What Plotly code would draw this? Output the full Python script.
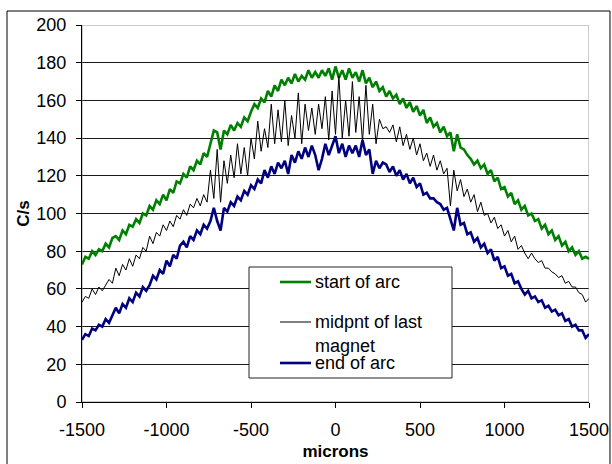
import plotly.graph_objects as go

# x positions (microns), 20-micron spacing
microns = list(range(-1500, 1501, 20))

start_of_arc = [
    73, 77, 76, 80, 78, 81, 80, 84, 82, 87,
    88, 86, 91, 89, 94, 93, 97, 95, 100, 99,
    104, 102, 107, 105, 110, 107, 113, 111, 117, 116,
    121, 119, 125, 123, 128, 126, 132, 130, 137, 144,
    143, 134, 144, 142, 147, 144, 148, 146, 151, 149,
    154, 158, 156, 161, 159, 165, 162, 168, 165, 171,
    168, 172, 169, 174, 170, 173, 171, 176, 172, 175,
    172, 176, 173, 177, 171, 178, 172, 176, 171, 177,
    172, 175, 170, 176, 169, 172, 167, 170, 165, 167,
    162, 165, 161, 163, 158, 161, 156, 159, 154, 157,
    152, 155, 148, 151, 146, 148, 143, 146, 141, 143,
    133, 142, 135, 134, 131, 129, 126, 128, 124, 126,
    121, 123, 117, 119, 113, 114, 109, 111, 105, 107,
    102, 104, 99, 100, 96, 97, 92, 94, 89, 91,
    86, 88, 83, 85, 80, 82, 78, 80, 76, 77,
    76,
]

midpnt_last_magnet = [
    53, 56, 55, 60, 57, 61, 59, 62, 65, 63,
    71, 67, 73, 70, 76, 72, 78, 76, 82, 80,
    88, 84, 90, 88, 94, 91, 96, 93, 99, 97,
    102, 99, 105, 103, 108, 104, 110, 106, 123, 108,
    134, 106, 128, 116, 131, 119, 137, 121, 135, 120,
    140, 129, 149, 133, 145, 135, 158, 137, 155, 138,
    160, 136, 152, 140, 164, 137, 158, 144, 156, 142,
    158, 145, 162, 139, 165, 142, 173, 140, 160, 141,
    170, 143, 162, 138, 168, 142, 158, 137, 150, 145,
    146, 143, 147, 138, 146, 136, 142, 134, 140, 131,
    137, 128, 132, 125, 131, 123, 128, 121, 124, 104,
    123, 112, 118, 109, 113, 106, 110, 101, 106, 99,
    100, 95, 98, 92, 94, 88, 91, 85, 88, 81,
    83, 79, 76, 79, 76, 74, 75, 71, 71, 69,
    68, 66, 67, 63, 64, 61, 61, 58, 57, 53,
    55,
]

end_of_arc = [
    33, 36, 35, 39, 38, 41, 40, 44, 42, 46,
    50, 47, 52, 50, 55, 53, 58, 56, 61, 59,
    62, 67, 65, 70, 68, 75, 72, 78, 76, 83,
    85, 82, 88, 86, 91, 89, 94, 92, 96, 103,
    96, 91, 103, 101, 106, 104, 109, 107, 112, 110,
    115, 113, 118, 116, 123, 119, 125, 121, 127, 124,
    128, 121, 131, 127, 133, 129, 135, 130, 136, 131,
    123, 129, 137, 131, 136, 141, 132, 137, 130, 136,
    132, 136, 130, 139, 131, 134, 121, 128, 124, 127,
    126, 122, 125, 120, 123, 118, 121, 116, 119, 114,
    116, 110, 111, 108, 108, 106, 105, 102, 103, 97,
    91, 103, 94, 95, 89, 90, 85, 87, 82, 84,
    79, 81, 75, 77, 71, 72, 67, 68, 63, 64,
    60, 57, 59, 55, 56, 53, 54, 50, 51, 48,
    49, 46, 47, 43, 44, 40, 41, 38, 38, 34,
    36,
]

x_ticks = [-1500, -1000, -500, 0, 500, 1000, 1500]
x_tick_text = ["-1500", "-1000", "-500", "0", "500", "1000", "1500"]
y_ticks = list(range(0, 201, 20))

FONT = "Liberation Sans, Arial, sans-serif"

fig = go.Figure()
fig.add_trace(go.Scatter(x=microns, y=start_of_arc, mode="lines", name="start of arc",
                         line=dict(color="#008000", width=2.6), showlegend=False))
fig.add_trace(go.Scatter(x=microns, y=midpnt_last_magnet, mode="lines", name="midpnt of last magnet",
                         line=dict(color="#000000", width=1), showlegend=False))
fig.add_trace(go.Scatter(x=microns, y=end_of_arc, mode="lines", name="end of arc",
                         line=dict(color="#000080", width=2.6), showlegend=False))

fig.update_layout(
    width=612, height=464,
    margin=dict(l=82, r=23, t=25, b=62, autoexpand=False),
    paper_bgcolor="white", plot_bgcolor="white",
    font=dict(family=FONT, size=18, color="black"),
    xaxis=dict(range=[-1500, 1500], tickvals=x_ticks, ticktext=x_tick_text,
               ticks="outside", ticklen=5, ticklabelstandoff=6,
               tickcolor="black", showline=True, linecolor="black", linewidth=1,
               showgrid=False, zeroline=False,
               title=dict(text="<b>microns</b>", font=dict(size=17), standoff=6)),
    yaxis=dict(range=[0, 200], tickvals=y_ticks, ticks="outside", ticklen=5,
               ticklabelstandoff=6,
               tickcolor="black", showline=True, linecolor="black", linewidth=1,
               showgrid=True, gridcolor="#1a1a1a", gridwidth=1, zeroline=False,
               title=dict(text="<b>C/s</b>", font=dict(size=17), standoff=2)),
)

# plot-area border (grey top/right)
fig.add_shape(type="rect", xref="x", yref="y", x0=-1500, x1=1500, y0=0, y1=200,
              line=dict(color="#9a9a9a", width=1), layer="between")
# outer chart border
fig.add_shape(type="rect", xref="paper", yref="paper", x0=-0.1479, x1=1.0414,
              y0=-0.2, y1=1.0371, line=dict(color="black", width=1), layer="below")

# legend box
px = lambda p: (p - 82) / 507
py = lambda p: (402 - p) / 377
fig.add_shape(type="rect", xref="paper", yref="paper", x0=px(249), x1=px(452),
              y0=py(378), y1=py(267), line=dict(color="#222222", width=1),
              fillcolor="white", layer="above")
legend_items = [
    ("start of arc", "#008000", 2.6, 282),
    ("midpnt of last", "#000000", 1, 322),
    ("end of arc", "#000080", 2.6, 363),
]
for label, color, w, yy in legend_items:
    fig.add_shape(type="line", xref="paper", yref="paper", x0=px(280), x1=px(311),
                  y0=py(yy), y1=py(yy), line=dict(color=color, width=w), layer="above")
    fig.add_annotation(x=px(315), y=py(yy), xref="paper", yref="paper", text=label,
                       showarrow=False, xanchor="left", yanchor="middle",
                       font=dict(size=18), xshift=-2)
fig.add_annotation(x=px(315), y=py(346), xref="paper", yref="paper", text="magnet",
                   showarrow=False, xanchor="left", yanchor="middle",
                   font=dict(size=18), xshift=-2)

fig.write_html("out.html", config={"displayModeBar": False},
               post_script="document.body.style.margin='0px';")
